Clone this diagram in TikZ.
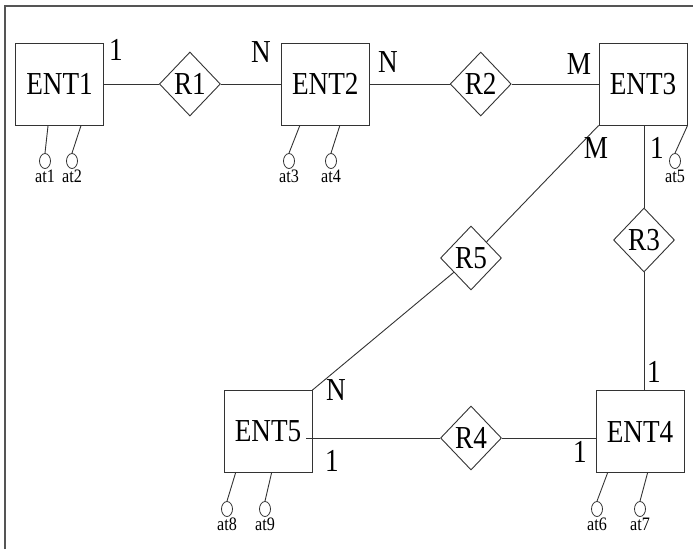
\documentclass[tikz,border=0pt]{standalone}
\usepackage{fontspec}
\usepackage{tikz}
\usetikzlibrary{positioning,shapes.geometric,calc}
\newfontfamily\erfont[FakeStretch=0.85]{Liberation Serif}
\definecolor{ERLine}{HTML}{333333}
\definecolor{ERFrame}{HTML}{555555}
\tikzset{
  entbox/.style={draw=ERLine,line width=0.9pt,minimum width=88pt,minimum height=82pt,inner sep=0pt,font=\erfont\fontsize{32}{32}\selectfont},
  relbox/.style={draw=ERLine,line width=0.9pt,diamond,minimum width=61pt,minimum height=64pt,inner sep=0pt,font=\erfont\fontsize{32}{32}\selectfont},
  attrdot/.style={draw=ERLine,line width=0.8pt,ellipse,minimum width=11pt,minimum height=15pt,inner sep=0pt},
  attrtag/.style={font=\erfont\fontsize{19}{19}\selectfont,inner sep=0.5pt},
  cardtag/.style={font=\erfont\fontsize{32}{32}\selectfont,inner sep=0pt},
  erlink/.style={draw=ERLine,line width=0.9pt},
  frameline/.style={draw=ERFrame,line width=2pt}
}
\begin{document}
\begin{tikzpicture}[x=1pt,y=-1pt]
\useasboundingbox (0,0) rectangle (693,549);
\draw[frameline] (5,549) -- (5,6) -- (693,6);
% entities and relations, top row
\node[entbox] (ent1) at (59.5,84) {ENT1};
\node[relbox,right=55pt of ent1] (r1) {R1};
\node[entbox,right=60pt of r1] (ent2) {ENT2};
\node[relbox,right=80pt of ent2] (r2) {R2};
\node[entbox,right=87pt of r2] (ent3) {ENT3};
% lower part
\node[relbox] (r3) at (644,240) {R3};
\node[relbox] (r5) at (471,258) {R5};
\node[entbox] (ent5) at (268,431.5) {ENT5};
\node[entbox] (ent4) at (640,431.5) {ENT4};
\node[relbox] (r4) at (471,438) {R4};
% links
\draw[erlink] (ent1) -- (r1) -- (ent2) -- (r2) -- (ent3);
\draw[erlink] (r3 |- ent3.south) -- (r3) -- (r3 |- ent4.north);
\draw[erlink] (ent3.south west) -- (r5) -- (ent5.north east);
\draw[erlink] ([xshift=-6pt]r4 -| ent5.east) -- (r4) -- (r4 -| ent4.west);
% cardinalities
\node[cardtag] (c11) at (116,50) {1};
\node[cardtag] (c12) at (261,52) {N};
\node[cardtag] (c21) at (388,62) {N};
\node[cardtag] (c22) at (579,64) {M};
\node[cardtag] (c51) at (596,148) {M};
\node[cardtag] (c31) at (657,148) {1};
\node[cardtag] (c32) at (654,372) {1};
\node[cardtag] (c52) at (336,390) {N};
\node[cardtag] (c41) at (332,461) {1};
\node[cardtag] (c42) at (580,452) {1};
% attributes
\node[attrdot,label={[attrtag]below:at1}] (at1) at (45,161) {};
\node[attrdot,label={[attrtag]below:at2}] (at2) at (72,161) {};
\node[attrdot,label={[attrtag]below:at3}] (at3) at (289,161) {};
\node[attrdot,label={[attrtag]below:at4}] (at4) at (331,161) {};
\node[attrdot,label={[attrtag]below:at5}] (at5) at (675,161) {};
\node[attrdot,label={[attrtag]below:at6}] (at6) at (597,509) {};
\node[attrdot,label={[attrtag]below:at7}] (at7) at (640,509) {};
\node[attrdot,label={[attrtag]below:at8}] (at8) at (227,509) {};
\node[attrdot,label={[attrtag]below:at9}] (at9) at (265,509) {};
\draw[erlink] ([xshift=33pt]ent1.south west) -- (at1.north);
\draw[erlink] ([xshift=66pt]ent1.south west) -- (at2.north);
\draw[erlink] ([xshift=19pt]ent2.south west) -- (at3.north);
\draw[erlink] ([xshift=59pt]ent2.south west) -- (at4.north);
\draw[erlink] (ent3.south east) -- (at5.north);
\draw[erlink] ([xshift=12pt]ent4.south west) -- (at6.north);
\draw[erlink] ([xshift=52pt]ent4.south west) -- (at7.north);
\draw[erlink] ([xshift=12pt]ent5.south west) -- (at8.north);
\draw[erlink] ([xshift=48pt]ent5.south west) -- (at9.north);
\end{tikzpicture}
\end{document}
